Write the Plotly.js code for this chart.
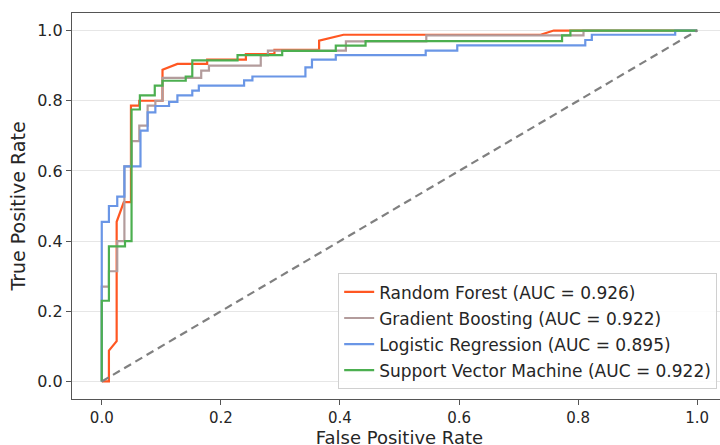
<!DOCTYPE html>
<html>
<head>
<meta charset="utf-8">
<script src="https://cdn.plot.ly/plotly-3.0.1.min.js"></script>
<style>
html,body{margin:0;padding:0;overflow:hidden;background:#fff;}
#chart{width:728px;height:453px;}
</style>
</head>
<body>
<div id="chart"></div>
<script>
// Random Forest
const rf_fpr = [0, 0.012, 0.012, 0.025, 0.025, 0.037, 0.049, 0.049, 0.063, 0.063, 0.102, 0.102, 0.127, 0.177, 0.177, 0.242, 0.242, 0.29, 0.29, 0.365, 0.365, 0.406, 0.737, 0.759, 1];
const rf_tpr = [0, 0, 0.088, 0.115, 0.455, 0.511, 0.511, 0.786, 0.786, 0.80, 0.80, 0.888, 0.905, 0.905, 0.917, 0.917, 0.933, 0.933, 0.945, 0.945, 0.971, 0.988, 0.988, 1, 1];
// Gradient Boosting
const gb_fpr = [0, 0, 0.012, 0.012, 0.026, 0.026, 0.038, 0.038, 0.05, 0.05, 0.063, 0.063, 0.077, 0.077, 0.09, 0.09, 0.102, 0.102, 0.167, 0.167, 0.18, 0.18, 0.267, 0.267, 0.279, 0.279, 0.41, 0.41, 0.545, 0.545, 0.809, 0.809, 1];
const gb_tpr = [0, 0.27, 0.27, 0.314, 0.314, 0.40, 0.40, 0.613, 0.613, 0.685, 0.685, 0.729, 0.729, 0.786, 0.786, 0.80, 0.80, 0.865, 0.865, 0.886, 0.886, 0.90, 0.90, 0.929, 0.929, 0.943, 0.943, 0.969, 0.969, 0.986, 0.986, 1, 1];
// Logistic Regression
const lr_fpr = [0, 0, 0.012, 0.012, 0.026, 0.026, 0.038, 0.038, 0.065, 0.065, 0.077, 0.077, 0.09, 0.09, 0.113, 0.113, 0.127, 0.127, 0.152, 0.152, 0.163, 0.163, 0.239, 0.239, 0.253, 0.253, 0.342, 0.342, 0.353, 0.353, 0.393, 0.393, 0.544, 0.544, 0.597, 0.597, 0.812, 0.812, 0.823, 0.823, 0.963, 0.963, 1];
const lr_tpr = [0, 0.455, 0.455, 0.50, 0.50, 0.527, 0.527, 0.613, 0.613, 0.715, 0.715, 0.767, 0.767, 0.785, 0.785, 0.797, 0.797, 0.815, 0.815, 0.829, 0.829, 0.843, 0.843, 0.858, 0.858, 0.869, 0.869, 0.895, 0.895, 0.917, 0.917, 0.93, 0.93, 0.943, 0.943, 0.958, 0.958, 0.973, 0.973, 0.988, 0.988, 1, 1];
// Support Vector Machine
const svm_fpr = [0, 0, 0.012, 0.012, 0.039, 0.039, 0.05, 0.05, 0.064, 0.064, 0.089, 0.089, 0.102, 0.102, 0.141, 0.141, 0.152, 0.152, 0.228, 0.228, 0.303, 0.303, 0.393, 0.393, 0.443, 0.443, 0.773, 0.773, 0.787, 0.787, 1];
const svm_tpr = [0, 0.23, 0.23, 0.385, 0.385, 0.40, 0.40, 0.775, 0.775, 0.815, 0.815, 0.843, 0.843, 0.857, 0.857, 0.869, 0.869, 0.915, 0.915, 0.93, 0.93, 0.942, 0.942, 0.957, 0.957, 0.97, 0.97, 0.986, 0.986, 1, 1];

const chance = [0, 1];
const names = ['Random Forest (AUC = 0.926)', 'Gradient Boosting (AUC = 0.922)', 'Logistic Regression (AUC = 0.895)', 'Support Vector Machine (AUC = 0.922)'];
const colors = ['#ff5722', '#b39c9c', '#6a96e6', '#4caf50'];
const xTicks = [0, 0.2, 0.4, 0.6, 0.8, 1.0];
const xTickText = ['0.0', '0.2', '0.4', '0.6', '0.8', '1.0'];
const yTicks = [0, 0.2, 0.4, 0.6, 0.8, 1.0];
const yTickText = ['0.0', '0.2', '0.4', '0.6', '0.8', '1.0'];

const series = [[rf_fpr, rf_tpr], [gb_fpr, gb_tpr], [lr_fpr, lr_tpr], [svm_fpr, svm_tpr]];
const traces = series.map((s, i) => ({
  x: s[0], y: s[1], type: 'scatter', mode: 'lines', name: names[i],
  line: {color: colors[i], width: 2.2}, legendgroup: 'g' + i
}));
traces.push({x: chance, y: chance, type: 'scatter', mode: 'lines', showlegend: false,
  line: {color: '#808080', width: 2.2, dash: '8px,5px'}});

const font = 'DejaVu Sans, sans-serif';
const layout = {
  width: 728, height: 453,
  margin: {l: 72, r: 1, t: 13, b: 54},
  paper_bgcolor: '#fff', plot_bgcolor: '#fff',
  font: {family: font, color: '#262626'},
  xaxis: {
    range: [-0.05, 1.05], tickvals: xTicks, ticktext: xTickText,
    showgrid: false, zeroline: false, showline: true, linecolor: '#555', linewidth: 1.2, mirror: true,
    ticks: 'outside', ticklen: 5, tickcolor: '#555', tickfont: {size: 15, family: font},
    title: {text: 'False Positive Rate', font: {size: 18, family: font}, standoff: 0}
  },
  yaxis: {
    range: [-0.05, 1.05], tickvals: yTicks, ticktext: yTickText,
    showgrid: true, gridcolor: '#e6e6e6', gridwidth: 1, zeroline: false,
    showline: true, linecolor: '#555', linewidth: 1.2, mirror: true,
    ticks: 'outside', ticklen: 5, tickcolor: '#555', tickfont: {size: 16, family: font},
    title: {text: 'True Positive Rate', font: {size: 19, family: font}, standoff: 6}
  },
  legend: {
    x: 0.985, xanchor: 'right', y: 0.025, yanchor: 'bottom',
    bgcolor: 'rgba(255,255,255,0.85)', bordercolor: '#d0d0d0', borderwidth: 1,
    font: {size: 17, family: font, color: '#262626'},
    traceorder: 'grouped', tracegroupgap: 1
  },
  showlegend: true
};
Plotly.newPlot('chart', traces, layout, {displayModeBar: false, staticPlot: true});
</script>
</body>
</html>
